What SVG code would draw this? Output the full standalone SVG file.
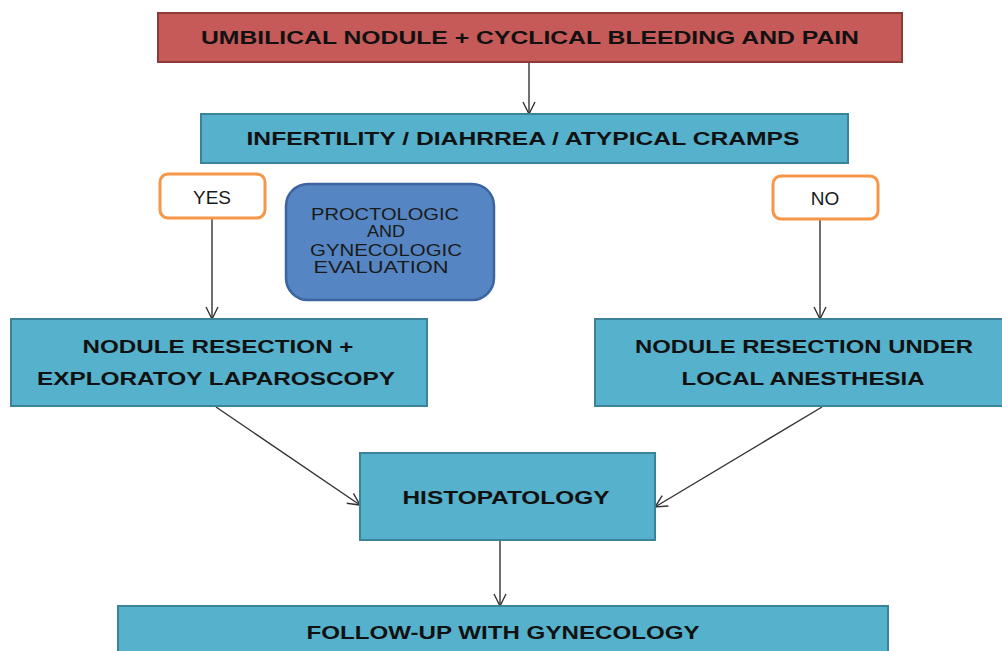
<svg xmlns="http://www.w3.org/2000/svg" width="1002" height="651" viewBox="0 0 1002 651">
<defs>
<marker id="arr" viewBox="0 0 14 14" refX="13" refY="7" markerWidth="14" markerHeight="14" markerUnits="userSpaceOnUse" orient="auto">
<path d="M1,1 L13,7 L1,13" fill="none" stroke="#333" stroke-width="1.4"/>
</marker>
</defs>
<style>
.red{fill:#c55a58;stroke:#8e3a38;stroke-width:2}
.blue{fill:#55b1cc;stroke:#3b8399;stroke-width:2}
.purp{fill:#5585c2;stroke:#3c64a0;stroke-width:2.5}
.opt{fill:#fff;stroke:#f79646;stroke-width:3}
.b{font-family:"Liberation Sans",Arial,sans-serif;font-weight:bold;fill:#111;text-anchor:middle}
.r{font-family:"Liberation Sans",Arial,sans-serif;fill:#1a1a1a;text-anchor:middle}
.c{fill:none;stroke:#333;stroke-width:1.4}
</style>
<rect width="1002" height="651" fill="#fff"/>
<g id="connectors">
<line class="c" x1="529" y1="63" x2="529" y2="114" marker-end="url(#arr)"/>
<line class="c" x1="212" y1="219" x2="212" y2="319" marker-end="url(#arr)"/>
<line class="c" x1="820" y1="220" x2="820" y2="319" marker-end="url(#arr)"/>
<line class="c" x1="216" y1="407" x2="360" y2="505" marker-end="url(#arr)"/>
<line class="c" x1="822" y1="407" x2="655" y2="507" marker-end="url(#arr)"/>
<line class="c" x1="500" y1="541" x2="500" y2="606" marker-end="url(#arr)"/>
</g>
<g id="n1">
<rect class="red" x="158" y="13" width="744" height="49"/>
<text class="b" x="530" y="44" font-size="18" textLength="658" lengthAdjust="spacingAndGlyphs">UMBILICAL NODULE + CYCLICAL BLEEDING AND PAIN</text>
</g>
<g id="n2">
<rect class="blue" x="201" y="114" width="647" height="49"/>
<text class="b" x="523" y="145" font-size="18" textLength="553" lengthAdjust="spacingAndGlyphs">INFERTILITY / DIAHRREA / ATYPICAL CRAMPS</text>
</g>
<g id="yes">
<rect class="opt" x="160" y="174" width="105" height="44" rx="8"/>
<text class="r" x="212" y="204" font-size="19">YES</text>
</g>
<g id="no">
<rect class="opt" x="773" y="176" width="105" height="43" rx="8"/>
<text class="r" x="825" y="205" font-size="19">NO</text>
</g>
<g id="eval">
<rect class="purp" x="286" y="184" width="208" height="116" rx="22"/>
<text class="r" font-size="16" x="385" y="220" textLength="148" lengthAdjust="spacingAndGlyphs">PROCTOLOGIC</text>
<text class="r" font-size="16" x="386" y="237" textLength="38" lengthAdjust="spacingAndGlyphs">AND</text>
<text class="r" font-size="16" x="386" y="256" textLength="152" lengthAdjust="spacingAndGlyphs">GYNECOLOGIC</text>
<text class="r" font-size="16" x="381" y="273" textLength="135" lengthAdjust="spacingAndGlyphs">EVALUATION</text>
</g>
<g id="n3">
<rect class="blue" x="11" y="319" width="416" height="87"/>
<text class="b" x="218" y="353" font-size="19" textLength="271" lengthAdjust="spacingAndGlyphs">NODULE RESECTION +</text>
<text class="b" x="216" y="385" font-size="19" textLength="358" lengthAdjust="spacingAndGlyphs">EXPLORATOY LAPAROSCOPY</text>
</g>
<g id="n4">
<rect class="blue" x="595" y="319" width="415" height="87"/>
<text class="b" x="804" y="353" font-size="19" textLength="338" lengthAdjust="spacingAndGlyphs">NODULE RESECTION UNDER</text>
<text class="b" x="803" y="385" font-size="19" textLength="243" lengthAdjust="spacingAndGlyphs">LOCAL ANESTHESIA</text>
</g>
<g id="n5">
<rect class="blue" x="360" y="453" width="295" height="87"/>
<text class="b" x="506" y="504" font-size="18" textLength="207" lengthAdjust="spacingAndGlyphs">HISTOPATOLOGY</text>
</g>
<g id="n6">
<rect class="blue" x="118" y="606" width="770" height="60"/>
<text class="b" x="503" y="639" font-size="18" textLength="393" lengthAdjust="spacingAndGlyphs">FOLLOW-UP WITH GYNECOLOGY</text>
</g>
</svg>
